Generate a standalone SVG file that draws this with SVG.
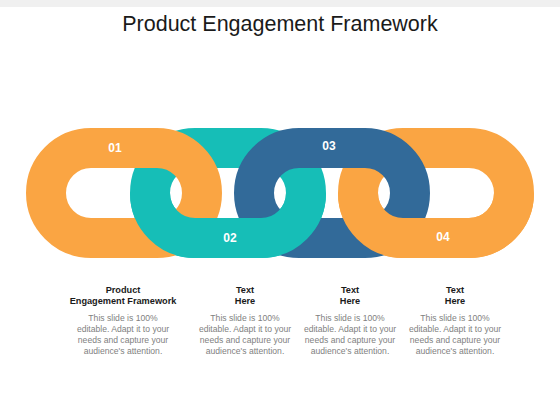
<svg xmlns="http://www.w3.org/2000/svg" xmlns:xlink="http://www.w3.org/1999/xlink" width="560" height="420" viewBox="0 0 560 420">
  <style>
    .ring { fill: none; stroke-width: 40; }
    .orange { stroke: #FAA543; }
    .teal { stroke: #16BEB7; }
    .blue { stroke: #326A99; }
    .num { font-family: "Liberation Sans", Arial, sans-serif; font-size: 12px; font-weight: bold; fill: #ffffff; text-anchor: middle; }
    .title { font-family: "Liberation Sans", Arial, sans-serif; font-size: 21.5px; fill: #1a1a1a; text-anchor: middle; }
    .head { font-family: "Liberation Sans", Arial, sans-serif; font-size: 9.2px; font-weight: bold; fill: #1a1a1a; text-anchor: middle; }
    .body { font-family: "Liberation Sans", Arial, sans-serif; font-size: 8.6px; fill: #7f7f7f; text-anchor: middle; }
  </style>
  <defs>
    <clipPath id="bottomHalf"><rect x="0" y="193" width="560" height="227"/></clipPath>
  </defs>
  <rect x="0" y="0" width="560" height="420" fill="#ffffff"/>
  <rect x="0" y="0" width="560" height="7" fill="#f0f0f0"/>
  <text class="title" x="280" y="31">Product Engagement Framework</text>

  <g id="link-2"><rect id="ring2" class="ring teal" x="150" y="148" width="156" height="90" rx="45"/></g>
  <g id="link-4"><rect id="ring4" class="ring orange" x="358" y="148" width="156" height="90" rx="45"/></g>
  <g id="link-1"><rect id="ring1" class="ring orange" x="46" y="148" width="156" height="90" rx="45"/></g>
  <g id="link-3"><rect id="ring3" class="ring blue" x="254" y="148" width="156" height="90" rx="45"/></g>

  <g id="connectors" clip-path="url(#bottomHalf)">
    <use xlink:href="#ring2" href="#ring2"/>
    <use xlink:href="#ring4" href="#ring4"/>
  </g>

  <g id="labels">
    <text class="num" x="115" y="152">01</text>
    <text class="num" x="230" y="242">02</text>
    <text class="num" x="329" y="150">03</text>
    <text class="num" x="443" y="241">04</text>
  </g>

  <g id="col-1">
    <text class="head" x="123" y="292.5">Product</text>
    <text class="head" x="123" y="303.5">Engagement Framework</text>
    <text class="body" x="123" y="321">This slide is 100%</text>
    <text class="body" x="123" y="332">editable. Adapt it to your</text>
    <text class="body" x="123" y="343">needs and capture your</text>
    <text class="body" x="123" y="354">audience's attention.</text>
  </g>
  <g id="col-2">
    <text class="head" x="245" y="292.5">Text</text>
    <text class="head" x="245" y="303.5">Here</text>
    <text class="body" x="245" y="321">This slide is 100%</text>
    <text class="body" x="245" y="332">editable. Adapt it to your</text>
    <text class="body" x="245" y="343">needs and capture your</text>
    <text class="body" x="245" y="354">audience's attention.</text>
  </g>
  <g id="col-3">
    <text class="head" x="350" y="292.5">Text</text>
    <text class="head" x="350" y="303.5">Here</text>
    <text class="body" x="350" y="321">This slide is 100%</text>
    <text class="body" x="350" y="332">editable. Adapt it to your</text>
    <text class="body" x="350" y="343">needs and capture your</text>
    <text class="body" x="350" y="354">audience's attention.</text>
  </g>
  <g id="col-4">
    <text class="head" x="455" y="292.5">Text</text>
    <text class="head" x="455" y="303.5">Here</text>
    <text class="body" x="455" y="321">This slide is 100%</text>
    <text class="body" x="455" y="332">editable. Adapt it to your</text>
    <text class="body" x="455" y="343">needs and capture your</text>
    <text class="body" x="455" y="354">audience's attention.</text>
  </g>
</svg>
